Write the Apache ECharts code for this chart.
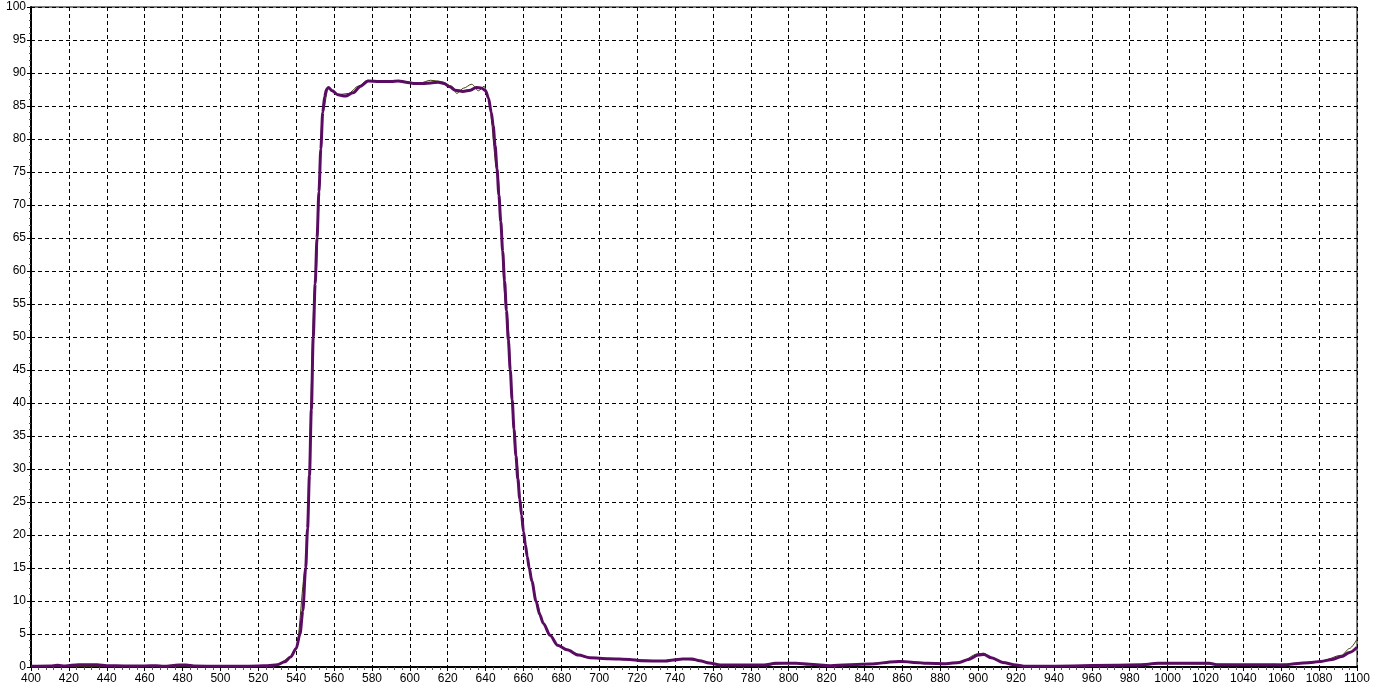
<!DOCTYPE html>
<html>
<head>
<meta charset="utf-8">
<script src="https://cdn.jsdelivr.net/npm/echarts@6/dist/echarts.min.js"></script>
<style>
html,body{margin:0;padding:0;background:#fff;}
#chart{width:1379px;height:688px;}
</style>
</head>
<body>
<div id="chart"></div>
<script>
// Wavelength (nm) and transmission (%) of the main (purple) scan
const wavelengths = [400,410,414,418,425,430,435,440,450,460,466,470,478,482,486,500,510,520,525,530,534,537,540,542,543.5,545,546,547,548,549,550,551,552,553,554,555,556,557,559,562,566,570,574,578,584,590,594,598,602,607,611,615,618,621,624,628,632,635,638,640,641.5,643,644,645,646,647,648,649,650,651,652,653,654,655,656,657,658,659,660,661,662,663,664.4,666.6,668.5,670.5,674,678,683,689,695,705,716,722,735,739,744,749,753,758,764,787,793,804,811,822,843,856,860,866,873,883,890,895,900,903,907,913,920,925,985,995,1022,1026,1050,1062,1067,1076,1081,1087,1092,1096,1100];
const transmission = [0.1,0.15,0.25,0.15,0.35,0.35,0.35,0.2,0.15,0.15,0.2,0.1,0.3,0.3,0.15,0.1,0.1,0.15,0.2,0.35,0.8,1.5,2.8,5,8.5,15,21,29,39,50,58,65,72,78.5,84,86.4,87.5,87.8,87.3,86.7,86.5,87.0,88.0,88.8,88.7,88.7,88.8,88.6,88.4,88.4,88.5,88.6,88.4,87.9,87.4,87.2,87.4,87.8,87.7,87.3,86.2,84,82,79,75.5,71.5,67.5,63,58.5,54,49.5,45,40.5,36,32,28.5,25.5,23,20.5,18.5,16.7,15,13,10,8,6.6,4.8,3.3,2.6,1.8,1.4,1.26,1.15,0.95,0.9,1.05,1.2,1.2,0.95,0.6,0.3,0.3,0.55,0.55,0.4,0.2,0.45,0.8,0.85,0.7,0.55,0.5,0.7,1.15,1.8,1.9,1.4,0.7,0.3,0.1,0.3,0.55,0.55,0.35,0.35,0.3,0.5,0.7,0.85,1.15,1.6,2.2,3.0];

// Second (thin, olive) scan, mostly hidden under the main one
const wavelengthsB = [400,520,530,537,540,545,550,554,557,562,567.5,572.8,577.6,584,594,605.4,611,616.8,622.1,624.8,628.3,632.7,636.2,639.2,641.5,646,651,656,660,663,666.6,670.5,674,678,683,689,695,705,716,735,744,753,764,787,800,822,843,860,883,890,900,903,907,913,920,930,1000,1050,1067,1081,1092,1096,1100];
const transmissionB = [0.1,0.15,0.35,1.5,2.8,15,58,84,87.8,86.7,86.9,88.0,88.9,88.7,88.8,88.5,88.9,88.7,88.0,86.9,87.7,88.3,87.3,88.0,86.2,75.5,54,32,20.5,15,10,6.6,4.8,3.3,2.6,1.8,1.4,1.26,1.15,0.9,1.2,0.95,0.3,0.3,0.55,0.2,0.45,0.85,0.5,0.7,2.0,2.1,1.4,0.7,0.3,0.1,0.5,0.35,0.5,0.9,1.8,2.8,4.2];

const xTicks = {min:400, max:1100, interval:20};
const yTicks = {min:0, max:100, interval:5};

const mainData = wavelengths.map((w,i)=>[w, transmission[i]]);
const bData = wavelengthsB.map((w,i)=>[w, transmissionB[i]]);

const chart = echarts.init(document.getElementById('chart'), null, {renderer:'canvas'});
const labelFont = {color:'#000', fontFamily:'Liberation Sans, Arial, sans-serif', fontSize:12};
const dashed = {show:true, lineStyle:{color:'#000', type:[4,3], width:1}};
chart.setOption({
  animation:false,
  backgroundColor:'#fff',
  grid:{left:31, right:22, top:7, bottom:21, show:true, borderColor:'#000', borderWidth:1, backgroundColor:'transparent'},
  xAxis:{
    type:'value', min:xTicks.min, max:xTicks.max, interval:xTicks.interval,
    axisLine:{show:true, lineStyle:{color:'#000', width:2}},
    axisTick:{show:true, inside:false, length:4, lineStyle:{color:'#000'}},
    minorTick:{show:true, splitNumber:5, length:3, lineStyle:{color:'#555'}},
    axisLabel:Object.assign({margin:6, formatter:(v)=>String(v)}, labelFont),
    splitLine:dashed
  },
  yAxis:{
    type:'value', min:yTicks.min, max:yTicks.max, interval:yTicks.interval,
    axisLine:{show:true, lineStyle:{color:'#000', width:2}},
    axisTick:{show:true, length:4, lineStyle:{color:'#000'}},
    minorTick:{show:true, splitNumber:5, length:2, lineStyle:{color:'#555'}},
    axisLabel:Object.assign({margin:5, formatter:(v)=>String(v)}, labelFont),
    splitLine:dashed
  },
  series:[
    {type:'line', data:bData, smooth:0.3, smoothMonotone:'x', showSymbol:false, lineStyle:{color:'#3c3f00', width:1}, z:2},
    {type:'line', data:mainData, smooth:0.3, smoothMonotone:'x', showSymbol:false, lineStyle:{color:'#5a0c63', width:3}, z:3}
  ]
});
</script>
</body>
</html>
